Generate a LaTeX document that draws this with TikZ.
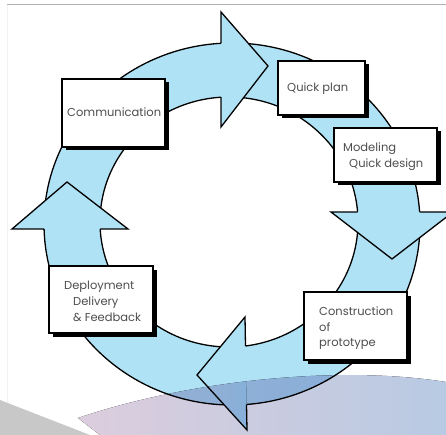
\documentclass[tikz,border=0pt]{standalone}
\usepackage{fontspec}
\setmainfont{Poppins}
\usetikzlibrary{shadows}
\definecolor{ringblue}{HTML}{B0E2F6}
\definecolor{txtgray}{HTML}{4E4E4E}
\definecolor{pinkl}{HTML}{DCCDDD}
\definecolor{bluer}{HTML}{B8CAE3}
\definecolor{ringdl}{HTML}{98AED2}
\definecolor{ringdr}{HTML}{86B0DA}
\definecolor{grayc}{HTML}{C8C8C8}
\begin{document}
\begin{tikzpicture}[x=1pt,y=-1pt,
  edge/.style={line width=1.3pt, line join=miter},
  box/.style={draw=black, line width=1.1pt, fill=white, inner sep=0pt,
    drop shadow={shadow xshift=3.5pt, shadow yshift=-3.5pt, fill=black, opacity=1}},
  lbl/.style={anchor=base west, inner sep=0pt, text=txtgray, font=\fontsize{11.5}{14}\selectfont}]
\useasboundingbox (0,0) rectangle (446,435);
% background
\draw[gray!60, line width=1pt] (7,5) -- (446,5);
\draw[gray!10, line width=0.6pt] (7,5) -- (7,435);
\fill[grayc] (0,400) -- (90,435) -- (0,435) -- cycle;
% overlay shape (behind, opaque)
\fill[left color=pinkl, right color=bluer]
  (78,418) .. controls (190,380) and (340,365) .. (446,382) -- (446,435) -- (100,435) -- cycle;
% ring
\fill[ringblue, even odd rule] (232,224) ellipse [x radius=188pt, y radius=181pt]
  (229,222) ellipse [x radius=129pt, y radius=125pt];
% darker ring part under the overlay
\begin{scope}
\clip (78,418) .. controls (190,380) and (340,365) .. (446,382) -- (446,435) -- (100,435) -- cycle;
\fill[left color=ringdl, right color=ringdr, even odd rule] (232,224) ellipse [x radius=188pt, y radius=181pt]
  (229,222) ellipse [x radius=129pt, y radius=125pt];
\end{scope}
% ring outlines
\begin{scope}
\clip (0,0) rectangle (446,435);
\draw[edge] (232,224) ellipse [x radius=188pt, y radius=181pt];
\draw[edge] (229,222) ellipse [x radius=129pt, y radius=125pt];
\end{scope}
% arrow heads (fills cover ring lines inside heads)
\fill[ringblue] (221,12) -- (268,66) -- (221,127) -- cycle;
\fill[ringblue] (331,212) -- (392,259) -- (453,212) -- cycle;
\fill[ringblue] (12,229) -- (67,182) -- (128,229) -- cycle;
\fill[ringblue] (245,317) -- (197,375) -- (247,430) -- cycle;
\begin{scope}
\clip (78,418) .. controls (190,380) and (340,365) .. (446,382) -- (446,435) -- (100,435) -- cycle;
\fill[left color=ringdl, right color=ringdr] (245,317) -- (197,375) -- (247,430) -- cycle;
\end{scope}
\draw[edge] (221,43.3) -- (221,12) -- (268,66) -- (221,127) -- (221,97.2);
\draw[edge] (357.6,212) -- (331,212) -- (392,259) -- (453,212) -- (419.6,212);
\draw[edge] (245.5,346) -- (245,317) -- (197,375) -- (247,430) -- (246.5,404.5);
\draw[edge] (44,229) -- (12,229) -- (67,182) -- (128,229) -- (100.2,229);
% boxes
\node[box, minimum width=103pt, minimum height=68pt] (comm) at (113.5,113) {};
\node[box, minimum width=87pt, minimum height=54pt] (plan) at (321.5,88) {};
\node[box, minimum width=103pt, minimum height=54pt] (model) at (385.5,155) {};
\node[box, minimum width=104pt, minimum height=67pt] (deploy) at (101,299.5) {};
\node[box, minimum width=103pt, minimum height=68pt] (constr) at (355.5,326) {};
% texts
\node[lbl] (t1) at (67,117) {Communication};
\node[lbl] (t2) at (287,92) {Quick plan};
\node[lbl] (t3) at (343,152) {Modeling};
\node[lbl] (t4) at (349,168) {Quick design};
\node[lbl] (t5) at (64,289) {Deployment};
\node[lbl] (t6) at (73,305) {Delivery};
\node[lbl] (t7) at (73,321) {\& Feedback};
\node[lbl] (t8) at (319,315) {Construction};
\node[lbl] (t9) at (319,331) {of};
\node[lbl] (t10) at (319,346) {prototype};
\end{tikzpicture}
\end{document}
